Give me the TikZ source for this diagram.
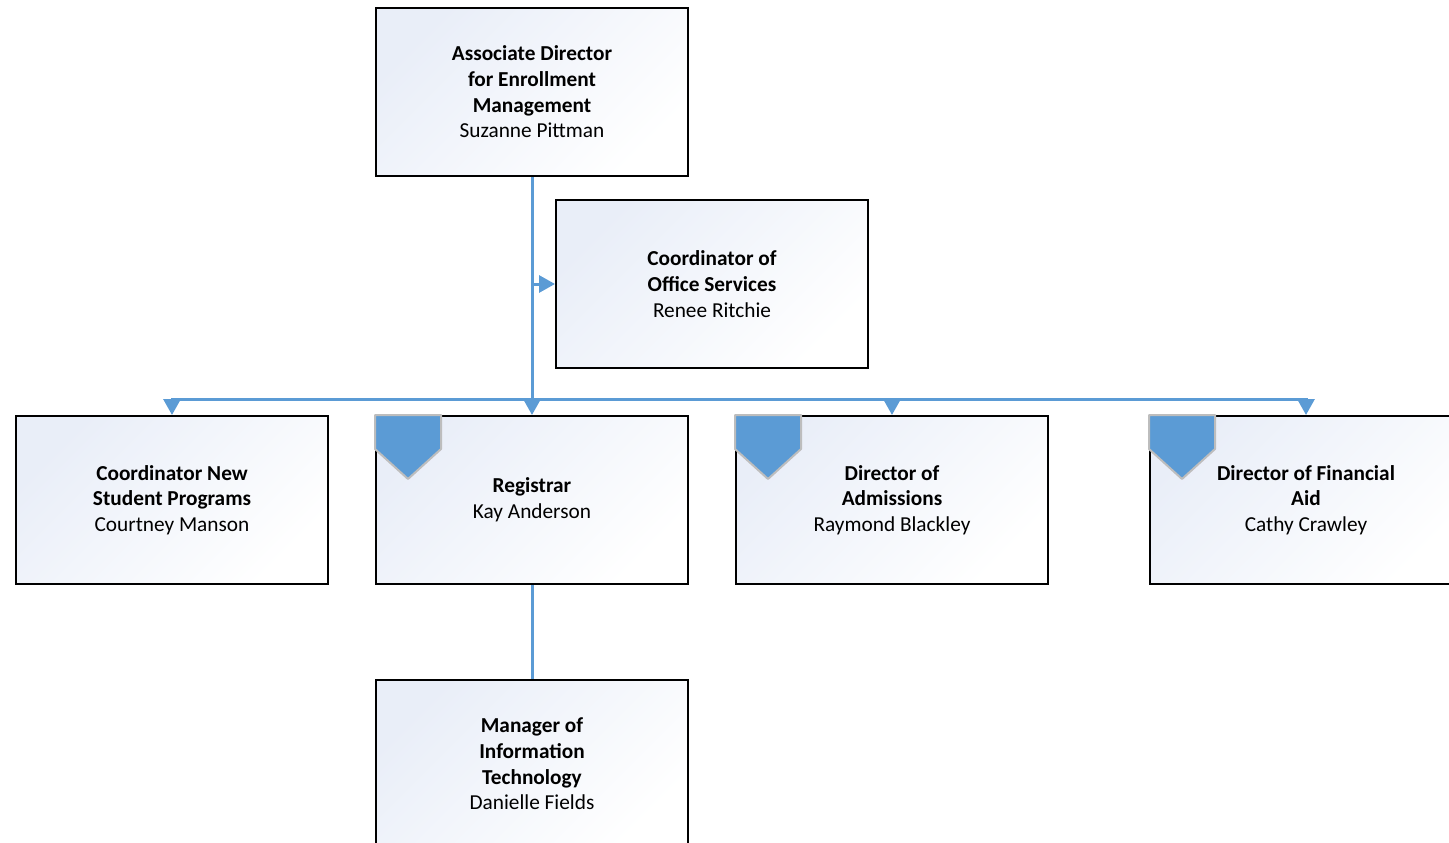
\documentclass[tikz,border=0pt]{standalone}
\usepackage{fontspec}
\setmainfont{Carlito}
\usepackage{xcolor}
\usepackage{tikz}
\usetikzlibrary{arrows.meta, positioning}
\definecolor{linkblue}{HTML}{5B9BD5}
\definecolor{boxtint}{HTML}{E9EEF8}
\definecolor{badgeedge}{HTML}{BDBDBD}

\begin{document}
\begin{tikzpicture}[
  x=1pt, y=-1pt,
  node distance=238pt and 46pt,
  person/.style={draw=black, line width=2pt, minimum width=312pt,
                 minimum height=168pt, inner sep=0pt, align=center,
                 font=\fontsize{21.3}{25.7}\selectfont,
                 top color=boxtint, bottom color=white, shading angle=45},
  conn/.style={draw=linkblue, line width=3pt},
  arr/.style={conn, -{Triangle[length=16pt, width=17pt]}},
  badge/.style={fill=linkblue, draw=badgeedge, line width=2pt, line join=round}
]
  \useasboundingbox (0,0) rectangle (1449,843);

  % Top
  \node[person] (aded) at (532,92)
    {\textbf{Associate Director}\\\textbf{for Enrollment}\\\textbf{Management}\\Suzanne Pittman};

  % Assistant
  \node[person] (cos) at (712,284)
    {\textbf{Coordinator of}\\\textbf{Office Services}\\Renee Ritchie};

  % Row 1
  \node[person] (reg)  [below=of aded]
    {\textbf{Registrar}\\Kay Anderson};
  \node[person] (cnsp) [left=of reg]
    {\textbf{Coordinator New}\\\textbf{Student Programs}\\Courtney Manson};
  \node[person] (doa)  [right=of reg]
    {\textbf{Director of}\\\textbf{Admissions}\\Raymond Blackley};
  \node[person] (dfa)  [right=100pt of doa]
    {\textbf{Director of Financial}\\\textbf{Aid}\\Cathy Crawley};

  % Row 2
  \node[person] (mit)  [below=94pt of reg]
    {\textbf{Manager of}\\\textbf{Information}\\\textbf{Technology}\\Danielle Fields};

  % Connectors
  \coordinate (bus) at ([yshift=16pt]reg.north);
  \draw[conn] (aded.south) -- (bus);
  \draw[arr]  (bus) -- (reg.north);
  \draw[arr]  (bus) -| (cnsp.north);
  \draw[arr]  (bus) -| (doa.north);
  \draw[arr]  (bus) -| (dfa.north);
  \draw[arr]  (aded.south |- cos.west) -- (cos.west);
  \draw[conn] (reg.south) -- (mit.north);

  % Badges
  \filldraw[badge] (reg.north west) -- ++(66,0) -- ++(0,34) -- ++(-33,30) -- ++(-33,-30) -- cycle;
  \filldraw[badge] (doa.north west) -- ++(66,0) -- ++(0,34) -- ++(-33,30) -- ++(-33,-30) -- cycle;
  \filldraw[badge] (dfa.north west) -- ++(66,0) -- ++(0,34) -- ++(-33,30) -- ++(-33,-30) -- cycle;
\end{tikzpicture}
\end{document}
